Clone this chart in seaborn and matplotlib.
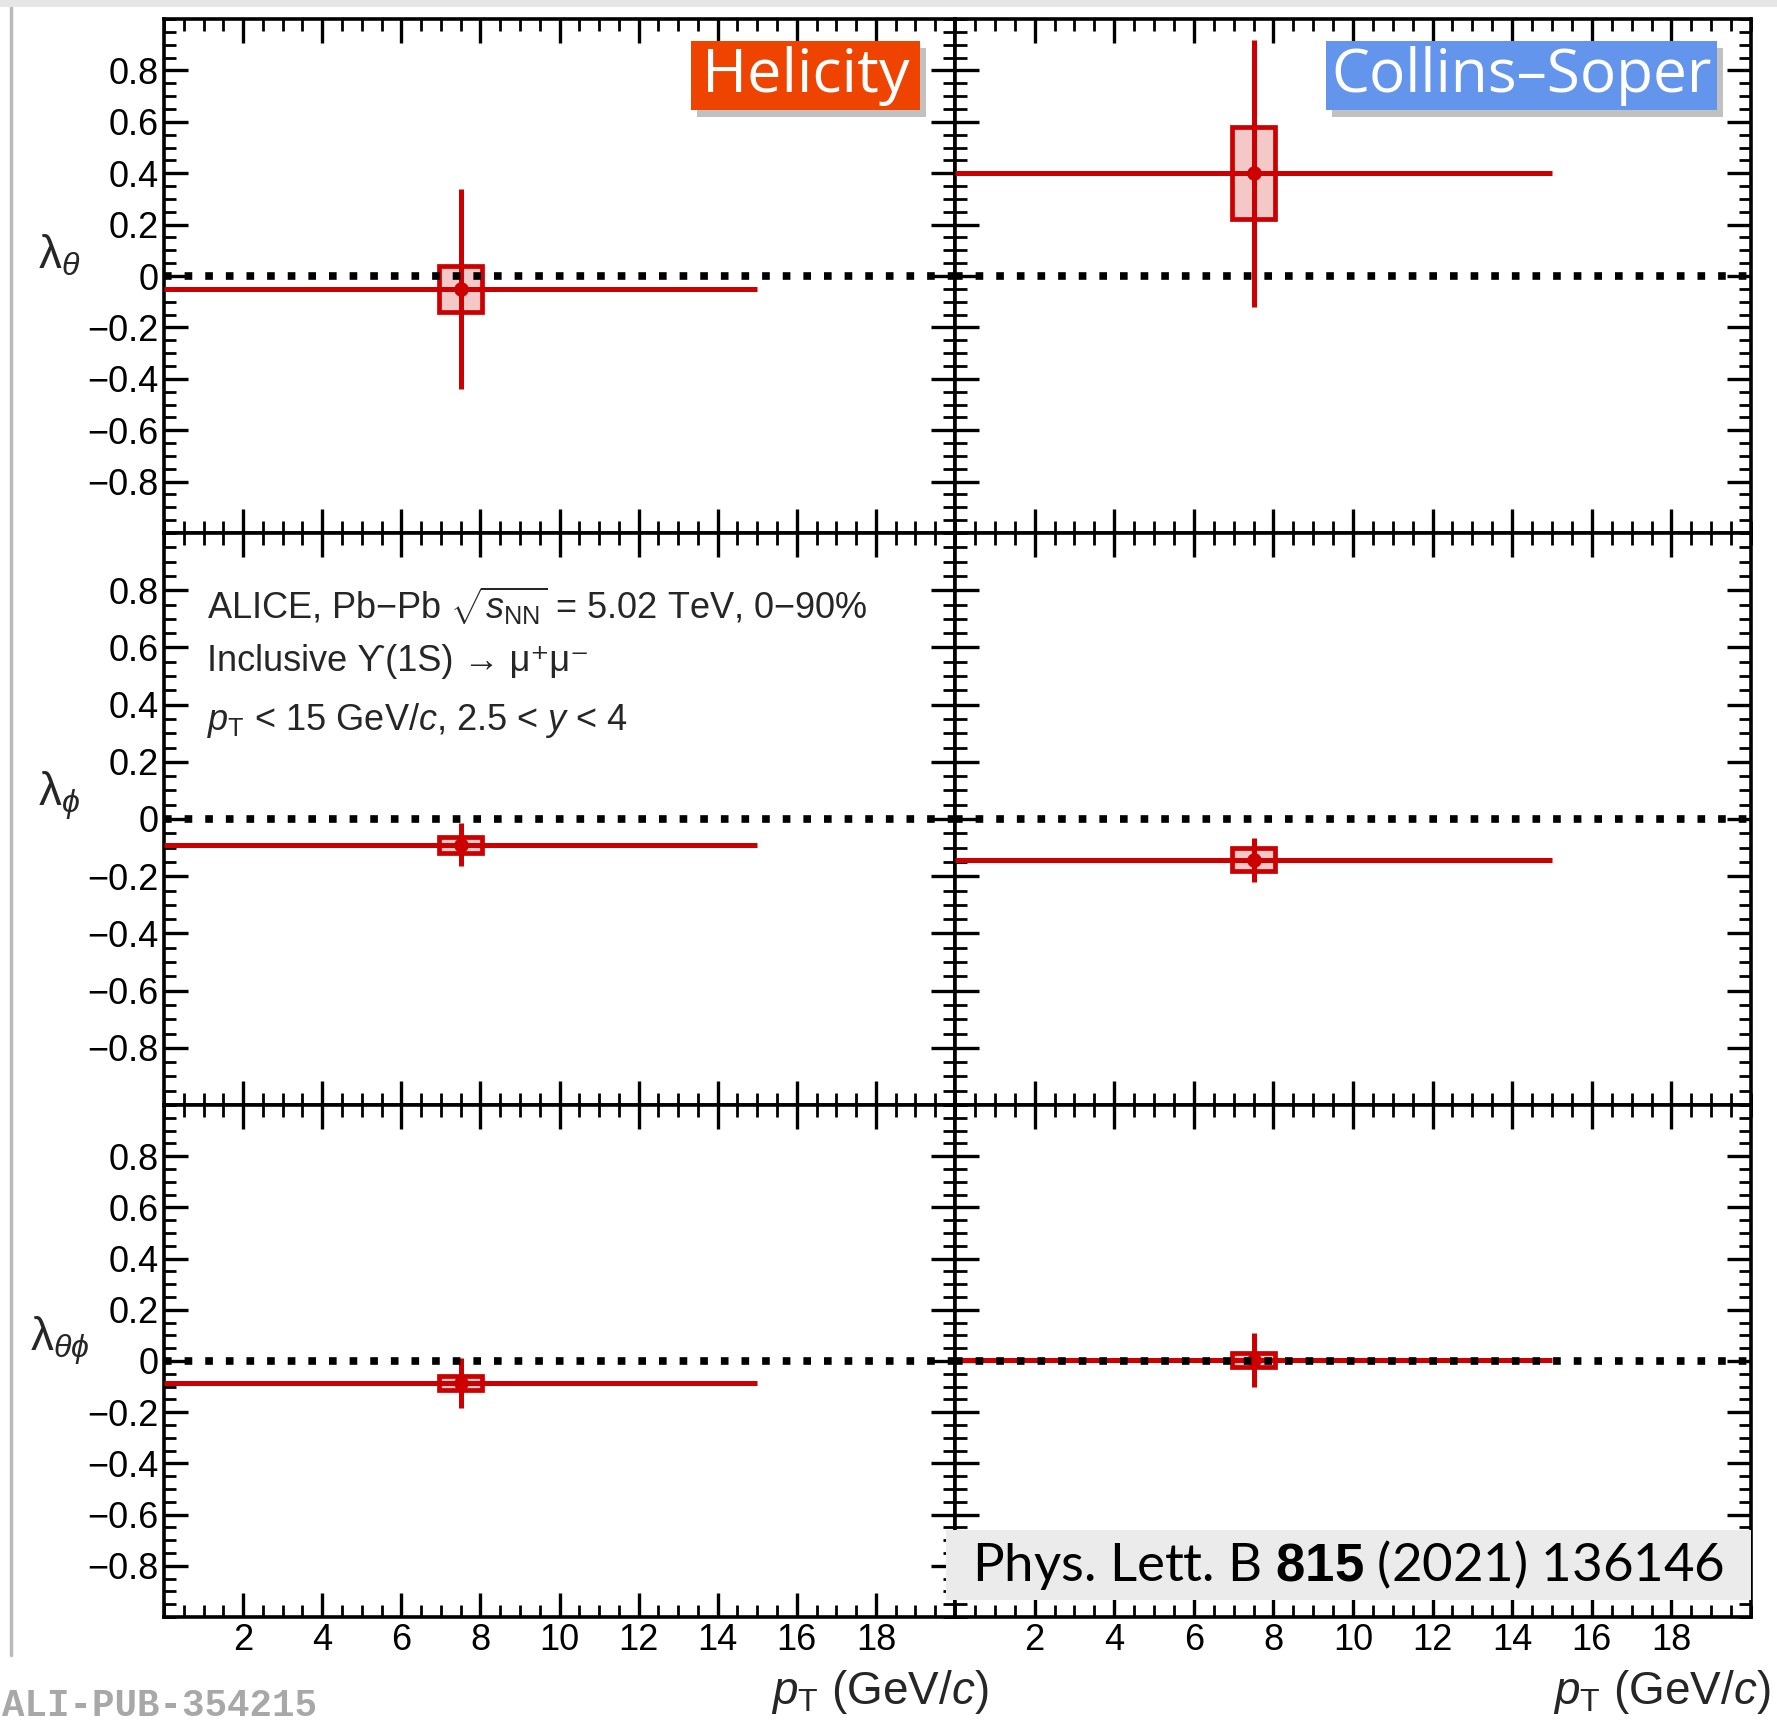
import numpy as np
import pandas as pd
import seaborn as sns
import matplotlib.pyplot as plt
from matplotlib.patches import Rectangle
from matplotlib.lines import Line2D
from matplotlib.ticker import MultipleLocator, FuncFormatter

# ---------------- data ----------------
frames = ["Helicity", "Collins\u2013Soper"]
param_labels = [r"$\mathrm{\lambda}_{\theta}$", r"$\mathrm{\lambda}_{\phi}$",
                r"$\mathrm{\lambda}_{\theta\phi}$"]
pt_center = 7.5
pt_low = 0.0
pt_high = 15.0
values_hx = [-0.05, -0.09, -0.085]
stat_hx = [0.39, 0.075, 0.097]
syst_hx = [0.09, 0.028, 0.027]
values_cs = [0.40, -0.143, 0.005]
stat_cs = [0.52, 0.077, 0.105]
syst_cs = [0.18, 0.04, 0.027]
syst_halfwidth = 0.55
yticks = [-0.8, -0.6, -0.4, -0.2, 0.0, 0.2, 0.4, 0.6, 0.8]
xticks = [2, 4, 6, 8, 10, 12, 14, 16, 18]

values = [values_hx, values_cs]
stats = [stat_hx, stat_cs]
systs = [syst_hx, syst_cs]

# ---------------- style ----------------
sns.set_theme(style="ticks")
plt.rcParams["font.family"] = ["Liberation Sans", "DejaVu Sans"]
plt.rcParams["mathtext.fontset"] = "custom"
plt.rcParams["mathtext.rm"] = "Liberation Sans"
plt.rcParams["mathtext.it"] = "Liberation Sans:italic"
plt.rcParams["mathtext.bf"] = "Liberation Sans:bold"
plt.rcParams["axes.unicode_minus"] = True

RED = "#CC0000"
PINK = "#F5C8C8"

W, H = 1777, 1730
fig = plt.figure(figsize=(W / 100, H / 100), dpi=100)
fig.patch.set_facecolor("white")

col_px = [(164, 955), (955, 1751)]
row_px = [(19, 533), (533, 1105), (1105, 1617)]


def fmt_y(v, pos):
    if abs(v) > 0.9:
        return ""
    if abs(v) < 1e-9:
        return "0"
    return ("%.1f" % v).replace("-", "\u2212")


def fmt_x(v, pos):
    if v < 1 or v > 19:
        return ""
    return "%d" % round(v)


axes = {}
for c, (x0, x1) in enumerate(col_px):
    for r, (y0, y1) in enumerate(row_px):
        ax = fig.add_axes([x0 / W, 1 - y1 / H, (x1 - x0) / W, (y1 - y0) / H])
        axes[(r, c)] = ax
        ax.set_xlim(0, 20)
        ax.set_ylim(-1, 1)
        ax.set_facecolor("white")
        for s in ax.spines.values():
            s.set_linewidth(2.6)
            s.set_color("black")
        ax.set_xticks(xticks)
        ax.set_yticks(yticks)
        ax.xaxis.set_minor_locator(MultipleLocator(0.5))
        ax.yaxis.set_minor_locator(MultipleLocator(0.05))
        ax.yaxis.set_major_formatter(FuncFormatter(fmt_y))
        ax.xaxis.set_major_formatter(FuncFormatter(fmt_x))
        ax.tick_params(which="both", direction="in", top=True, right=True,
                       colors="black", labelsize=26)
        ax.tick_params(which="major", length=17, width=2.4, pad=4)
        ax.tick_params(which="minor", length=8.5, width=2.0)
        if c == 1:
            ax.tick_params(labelleft=False)
        if r != 2:
            ax.tick_params(labelbottom=False)

        v = values[c][r]
        st = stats[c][r]
        sy = systs[c][r]
        # systematic box
        ax.add_patch(Rectangle((pt_center - syst_halfwidth, v - sy),
                               2 * syst_halfwidth, 2 * sy,
                               facecolor=PINK, edgecolor=RED, linewidth=3.4, zorder=3))
        # statistical error bars and bin width
        ax.errorbar([pt_center], [v],
                    xerr=[[pt_center - pt_low], [pt_high - pt_center]],
                    yerr=[[st], [st]], fmt="none", ecolor=RED,
                    elinewidth=3.6, capsize=0, zorder=4)
        df = pd.DataFrame({"pt": [pt_center], "val": [v]})
        sns.scatterplot(data=df, x="pt", y="val", ax=ax, color=RED, s=110,
                        edgecolor=RED, linewidth=0, zorder=5, legend=False)
        ax.axhline(0, color="black", linewidth=5.5, linestyle=(0, (1, 1.7)),
                   dash_capstyle="butt", zorder=6)
        ax.set_xlabel("")
        ax.set_ylabel("")
        if c == 0:
            ax.text(-0.132, 0.08, param_labels[r], transform=ax.get_yaxis_transform(),
                    fontsize=33, ha="center", va="center")

# annotation text in middle-left panel
axm = axes[(1, 0)]
axm.text(0.054, 0.872, r"ALICE, Pb$-$Pb $\sqrt{s_{\rm NN}}$ = 5.02 TeV, 0$-$90%",
         transform=axm.transAxes, fontsize=26, va="center", ha="left")
axm.text(0.054, 0.776, "Inclusive \u03d2(1S) \u2192 \u03bc\u207a\u03bc\u207b",
         transform=axm.transAxes, fontsize=26, va="center", ha="left")
axm.text(0.054, 0.673, r"$p_{\rm T}$ < 15 GeV/$c$, 2.5 < $y$ < 4",
         transform=axm.transAxes, fontsize=26, va="center", ha="left")

# x axis labels
for xr in [988, 1770]:
    fig.text(xr / W, 1 - 1692 / H, r"$p_{\rm T}$ (GeV/$c$)", fontsize=33,
             ha="right", va="center")


# frame tags
def tag(x0, y0, x1, y1, text, fc, tc, fs, family, weight="normal", shadow=True):
    if shadow:
        fig.patches.append(Rectangle((x0 / W + 6 / W, 1 - y1 / H - 7 / H),
                                     (x1 - x0) / W, (y1 - y0) / H,
                                     transform=fig.transFigure, facecolor="#777777",
                                     alpha=0.45, edgecolor="none", zorder=8))
    fig.patches.append(Rectangle((x0 / W, 1 - y1 / H), (x1 - x0) / W, (y1 - y0) / H,
                                 transform=fig.transFigure, facecolor=fc,
                                 edgecolor="none", zorder=9))
    fig.text((x0 + x1) / 2 / W, 1 - (y0 + y1) / 2 / H, text, color=tc,
             fontsize=fs, family=family, ha="center", va="center",
             weight=weight, zorder=10)


tag(691, 41, 920, 110, frames[0], "#EE4400", "white", 44, ["Open Sans", "DejaVu Sans"])
tag(1326, 41, 1717, 110, frames[1], "#6495ED", "white", 43.5, ["Open Sans", "DejaVu Sans"])
tag(946, 1530, 1751, 1600, r"Phys. Lett. B $\mathbf{815}$ (2021) 136146", "#EBEBEB",
    "black", 38, ["Lato", "DejaVu Sans"], shadow=False)

# watermark id
fig.text(0.001, 1 - 1706 / H, "ALI-PUB-354215", fontsize=27, family="Liberation Mono",
         weight="bold", color="#A8A8A8", ha="left", va="center")

# slide frame line on the left / top
fig.add_artist(Line2D([11 / W, 11 / W], [1 - 1655 / H, 1], transform=fig.transFigure,
                      color="#BBBBBB", linewidth=2.5))
fig.add_artist(Line2D([0, 1], [1 - 3 / H, 1 - 3 / H], transform=fig.transFigure,
                      color="#E6E6E6", linewidth=5))

fig.savefig("out.png", dpi=100, facecolor="white")
